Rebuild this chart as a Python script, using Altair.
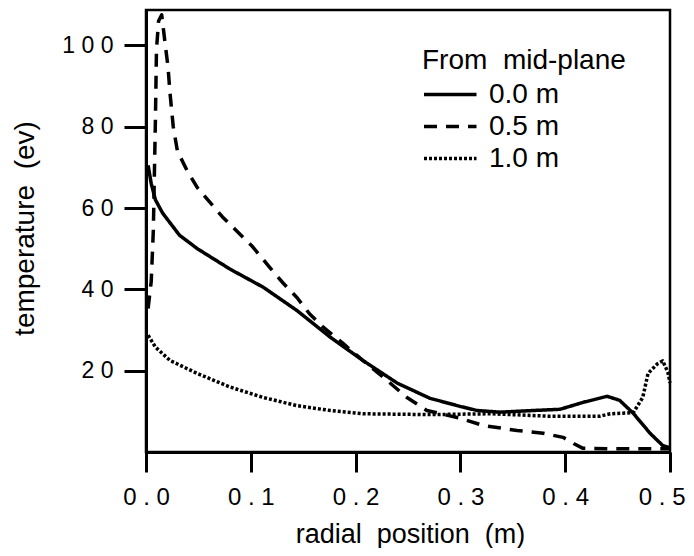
import altair as alt
import pandas as pd

NB = "\u00a0"

series_labels = ["0.0 m", "0.5 m", "1.0 m"]

# 0.0 m from mid-plane (solid)
x_00 = [0.002, 0.005, 0.009, 0.016, 0.032, 0.049, 0.08, 0.112, 0.144, 0.176,
        0.207, 0.24, 0.271, 0.3, 0.316, 0.338, 0.369, 0.395, 0.417, 0.44,
        0.452, 0.465, 0.481, 0.493, 0.5]
y_00 = [70.5, 66, 62, 58.7, 53.3, 50, 45, 40.5, 34.8, 28.2,
        22.5, 16.9, 13.2, 11.2, 10.2, 9.8, 10.2, 10.5, 12.2, 13.7,
        12.7, 9.5, 4.6, 1.6, 1.0]

# 0.5 m from mid-plane (dashed)
x_05 = [0.002, 0.005, 0.007, 0.009, 0.01, 0.012, 0.015, 0.018, 0.021, 0.023,
        0.026, 0.03, 0.039, 0.049, 0.073, 0.102, 0.118, 0.131, 0.144, 0.156,
        0.169, 0.188, 0.207, 0.23, 0.249, 0.268, 0.3, 0.322, 0.354, 0.379,
        0.398, 0.408, 0.417, 0.45, 0.5]
y_05 = [35.3, 42, 54.5, 82, 99, 106, 107.5, 101, 94.7, 88,
        80, 74, 69.3, 65, 57.8, 50.4, 45.4, 41.5, 38, 34,
        30.7, 26.7, 22.5, 17.6, 13.4, 10.2, 8.3, 6.5, 5.3, 4.6,
        3.6, 2.1, 0.9, 0.8, 0.8]

# 1.0 m from mid-plane (dotted)
x_10 = [0.002, 0.009, 0.023, 0.049, 0.08, 0.112, 0.144, 0.176, 0.207, 0.271,
        0.33, 0.385, 0.433, 0.443, 0.465, 0.474, 0.479, 0.488, 0.493, 0.498, 0.5]
y_10 = [28.7, 25.8, 22.5, 19.3, 16, 13.4, 11.4, 10.2, 9.4, 9.2,
        9.4, 8.8, 8.8, 9.4, 9.7, 13.4, 19.3, 21.7, 22.4, 19.6, 17]

x_ticks = [0.0, 0.1, 0.2, 0.3, 0.4, 0.5]
y_ticks = [20, 40, 60, 80, 100]

rows = []
for lab, xs, ys in zip(series_labels, [x_00, x_05, x_10], [y_00, y_05, y_10]):
    for i, (xv, yv) in enumerate(zip(xs, ys)):
        rows.append({"r": xv, "T": yv, "z": lab, "o": i})
df = pd.DataFrame(rows)

FONT = "Liberation Sans"
spaced = "join(split(datum.label, ''), '" + NB + "')"

legend = alt.Legend(
    orient="none", legendX=276, legendY=37, padding=0,
    title="From" + NB + NB + "mid-plane", titleLimit=400, labelLimit=200,
    titleFont=FONT, titleFontSize=28, titleFontWeight="normal", titleColor="black",
    titlePadding=5,
    labelFont=FONT, labelFontSize=28, labelColor="black", labelOffset=38,
    symbolType="M-1,0H3.2", symbolSize=625, symbolStrokeColor="black",
    symbolFillColor="transparent", rowPadding=3,
)

last = "datum.value >= 0.5"

chart = alt.Chart(df).mark_line(color="black", strokeCap="butt", strokeJoin="round").encode(
    x=alt.X("r:Q", scale=alt.Scale(domain=[0, 0.5], nice=False, zero=False),
            axis=alt.Axis(values=x_ticks, format=".1f", labelExpr=spaced, labelFlush=False,
                          labelAlign={"condition": {"test": last, "value": "right"}, "value": "center"},
                          labelOffset={"condition": {"test": last, "value": 15}, "value": 0},
                          title="radial" + NB + NB + "position" + NB + NB + "(m)",
                          grid=False, domainColor="black", domainWidth=3,
                          tickColor="black", tickWidth=3, tickSize=20,
                          labelFont=FONT, labelFontSize=24, labelColor="black",
                          labelPadding=13,
                          titleFont=FONT, titleFontSize=27, titleFontWeight="normal",
                          titleColor="black", titleX=264, titleY=90,
                          titleAlign="center", titleBaseline="alphabetic")),
    y=alt.Y("T:Q", scale=alt.Scale(domain=[0, 108.7], nice=False),
            axis=alt.Axis(values=y_ticks, format="d", labelExpr=spaced,
                          title="temperature" + NB + NB + "(ev)",
                          grid=False, domainColor="black", domainWidth=3,
                          tickColor="black", tickWidth=3, tickSize=22,
                          labelFont=FONT, labelFontSize=23, labelColor="black",
                          labelPadding=11,
                          titleFont=FONT, titleFontSize=28, titleFontWeight="normal",
                          titleColor="black", titleX=-121, titleY=218, titleAngle=270,
                          titleAlign="center", titleBaseline="middle")),
    strokeDash=alt.StrokeDash("z:N", scale=alt.Scale(domain=series_labels,
                              range=[[1, 0], [13, 9], [3, 2]]), legend=legend),
    strokeWidth=alt.StrokeWidth("z:N", scale=alt.Scale(domain=series_labels,
                                range=[3.5, 3.5, 3]), legend=legend),
    order="o:Q",
).properties(
    width=524, height=442,
    autosize=alt.AutoSizeParams(type="none"),
    padding={"left": 138, "top": 2, "right": 16, "bottom": 96},
).configure_view(stroke="black", strokeWidth=2.5)

chart.save("out.html", embed_options={"renderer": "svg", "actions": False})
